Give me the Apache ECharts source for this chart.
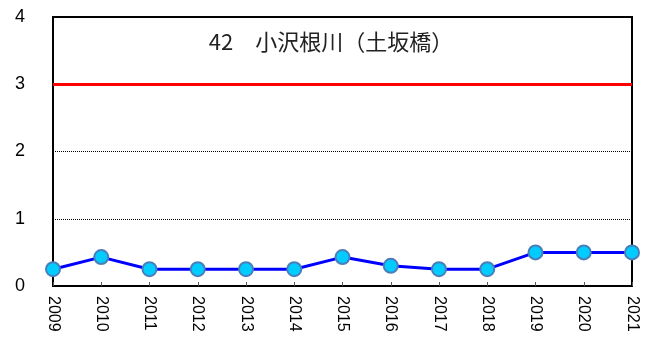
<!DOCTYPE html>
<html>
<head>
<meta charset="utf-8">
<script src="https://cdn.jsdelivr.net/npm/echarts@6/dist/echarts.min.js"></script>
<style>
  html, body { margin: 0; padding: 0; background: #fff; }
  #chart { width: 655px; height: 338px; }
</style>
</head>
<body>
<div id="chart"></div>
<script>
// Survey years and measured values
const years = ['2009', '2010', '2011', '2012', '2013', '2014', '2015', '2016', '2017', '2018', '2019', '2020', '2021'];
const values = [0.25, 0.43, 0.25, 0.25, 0.25, 0.25, 0.43, 0.30, 0.25, 0.25, 0.5, 0.5, 0.5];
const referenceLevel = 3;
const titleText = '42\u3000小沢根川（土坂橋）';

const chart = echarts.init(document.getElementById('chart'));
chart.setOption({
  animation: false,
  backgroundColor: '#fff',
  title: {
    text: titleText,
    left: 326,
    textAlign: 'center',
    top: 26,
    textStyle: {
      fontFamily: '"Noto Sans CJK JP", sans-serif',
      fontSize: 22,
      fontWeight: 'normal',
      color: '#222'
    }
  },
  grid: {
    left: 53,
    right: 23,
    top: 17,
    bottom: 52,
    outerBoundsMode: 'none',
    show: true,
    borderColor: '#000',
    borderWidth: 2
  },
  xAxis: {
    type: 'category',
    data: years,
    boundaryGap: false,
    axisLine: { lineStyle: { color: '#000', width: 2 } },
    axisTick: { show: true, inside: true, length: 4, lineStyle: { color: '#555' } },
    axisLabel: {
      rotate: -90,
      margin: 10,
      color: '#000',
      fontSize: 16,
      fontFamily: 'Arial, sans-serif'
    },
    splitLine: { show: false }
  },
  yAxis: {
    type: 'value',
    min: 0,
    max: 4,
    interval: 1,
    axisLine: { show: true, lineStyle: { color: '#000', width: 2 } },
    axisTick: { show: false },
    axisLabel: {
      margin: 28,
      color: '#000',
      fontSize: 18,
      fontFamily: 'Arial, sans-serif'
    },
    splitLine: { show: true, lineStyle: { color: '#000', width: 1, type: [1, 1] } }
  },
  series: [{
    type: 'line',
    data: values,
    symbol: 'circle',
    symbolSize: 14,
    lineStyle: { color: '#0000ff', width: 3 },
    itemStyle: { color: '#00ccff', borderColor: '#4a7ebb', borderWidth: 2 },
    z: 5,
    markLine: {
      silent: true,
      symbol: 'none',
      label: { show: false },
      lineStyle: { color: '#ff0000', width: 3, type: 'solid' },
      data: [{ yAxis: referenceLevel }]
    }
  }]
});
</script>
</body>
</html>
